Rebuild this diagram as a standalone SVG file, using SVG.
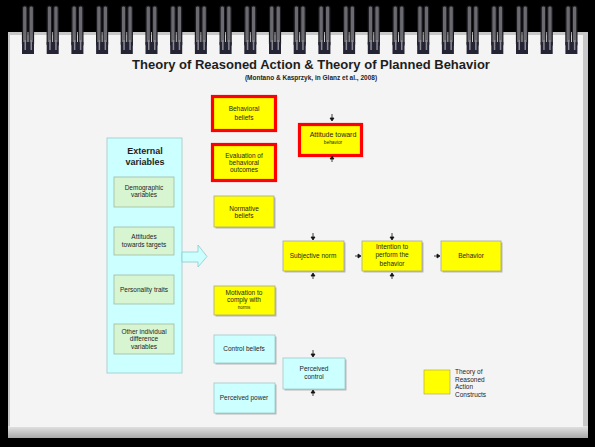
<svg xmlns="http://www.w3.org/2000/svg" width="595" height="447" viewBox="0 0 595 447">
<defs>
<style>
.t{font-family:"Liberation Sans",Arial,sans-serif;fill:#1e1e1e;text-anchor:middle}
.s{font-size:6.5px}
.y{fill:#ffff00;stroke:#a8a890;stroke-width:0.8}
.r{fill:#ffff00;stroke:#ff0000;stroke-width:3.2}
.c{fill:#ccffff;stroke:#9fc8c8;stroke-width:0.8}
.g{fill:#d6f5d0;stroke:#a0b8a0;stroke-width:0.8}
.sh{fill:#b8b8b8}
.ah{fill:#111;stroke:#111;stroke-width:0.8}
</style>
<g id="ring">
<rect x="-5.5" y="6" width="4.5" height="40" rx="2" fill="#6a6a70" stroke="#1a1a1e" stroke-width="1.2"/>
<rect x="1" y="6" width="4.5" height="40" rx="2" fill="#6a6a70" stroke="#1a1a1e" stroke-width="1.2"/>
<rect x="-6" y="42" width="12" height="12" fill="#242434"/>
<rect x="-3.5" y="40" width="1.5" height="10" fill="#8a8a92"/>
<rect x="2.5" y="40" width="1.5" height="10" fill="#8a8a92"/>
</g>
<linearGradient id="bot" x1="0" y1="0" x2="0" y2="1">
<stop offset="0" stop-color="#e4e4e4"/><stop offset="1" stop-color="#a8a8a8"/>
</linearGradient>
</defs>
<rect width="595" height="447" fill="#000"/>
<g id="paper">
<rect x="8" y="32" width="580" height="406" fill="#c8c8c8"/>
<rect x="8" y="426" width="580" height="12" fill="url(#bot)"/>
<rect x="10" y="33" width="573" height="394" fill="#f4f4f4"/>
<rect x="10" y="33" width="573" height="2" fill="#c8c8c8"/>
</g>
<g id="binding">
<use href="#ring" x="28"/><use href="#ring" x="52.7"/><use href="#ring" x="77.4"/><use href="#ring" x="102.1"/>
<use href="#ring" x="126.8"/><use href="#ring" x="151.5"/><use href="#ring" x="176.2"/><use href="#ring" x="200.9"/>
<use href="#ring" x="225.6"/><use href="#ring" x="250.3"/><use href="#ring" x="275"/><use href="#ring" x="299.7"/>
<use href="#ring" x="324.4"/><use href="#ring" x="349.1"/><use href="#ring" x="373.8"/><use href="#ring" x="398.5"/>
<use href="#ring" x="423.2"/><use href="#ring" x="447.9"/><use href="#ring" x="472.6"/><use href="#ring" x="497.3"/>
<use href="#ring" x="522"/><use href="#ring" x="546.7"/><use href="#ring" x="571.4"/>
</g>
<g id="title">
<text class="t" x="311" y="69" font-size="13" font-weight="bold">Theory of Reasoned Action &amp; Theory of Planned Behavior</text>
<text class="t" x="311" y="80" font-size="6.5" font-weight="bold">(Montano &amp; Kasprzyk, in Glanz et al., 2008)</text>
</g>
<g id="external">
<rect class="c" x="107" y="138" width="75" height="235"/>
<text class="t" x="145" y="154" font-size="9" font-weight="bold">External</text>
<text class="t" x="145" y="165" font-size="9" font-weight="bold">variables</text>
</g>
<g id="demographic">
<rect class="g" x="114" y="177" width="60" height="30"/>
<text class="t s" x="144" y="190">Demographic</text><text class="t s" x="144" y="197">variables</text>
</g>
<g id="attitudes-targets">
<rect class="g" x="114" y="227" width="60" height="28"/>
<text class="t s" x="144" y="239">Attitudes</text><text class="t s" x="144" y="247">towards targets</text>
</g>
<g id="personality">
<rect class="g" x="114" y="275" width="60" height="29"/>
<text class="t s" x="144" y="292">Personality traits</text>
</g>
<g id="other">
<rect class="g" x="114" y="324" width="60" height="30"/>
<text class="t s" x="144" y="334">Other individual</text><text class="t s" x="144" y="341">difference</text><text class="t s" x="144" y="349">variables</text>
</g>
<g id="behavioral-beliefs">
<rect class="r" x="212.5" y="96.5" width="63" height="34"/>
<text class="t s" x="244" y="111">Behavioral</text><text class="t s" x="244" y="120">beliefs</text>
</g>
<g id="evaluation">
<rect class="r" x="212.5" y="144.5" width="63" height="36"/>
<text class="t s" x="244" y="158">Evaluation of</text><text class="t s" x="244" y="165">behavioral</text><text class="t s" x="244" y="172">outcomes</text>
</g>
<g id="normative-beliefs">
<rect class="sh" x="215.5" y="197.5" width="60" height="31"/>
<rect class="y" x="214" y="196" width="60" height="31"/>
<text class="t s" x="244" y="211">Normative</text><text class="t s" x="244" y="218">beliefs</text>
</g>
<g id="motivation">
<rect class="sh" x="215.5" y="287.5" width="61" height="29"/>
<rect class="y" x="214" y="286" width="61" height="29"/>
<text class="t s" x="244" y="295">Motivation to</text><text class="t s" x="244" y="302">comply with</text><text class="t" x="244" y="309" font-size="4.5">norms</text>
</g>
<g id="control-beliefs">
<rect class="sh" x="215.5" y="336.5" width="61" height="28"/>
<rect class="c" x="214" y="335" width="61" height="28"/>
<text class="t s" x="244" y="351">Control beliefs</text>
</g>
<g id="perceived-power">
<rect class="sh" x="215.5" y="384.5" width="61" height="30"/>
<rect class="c" x="214" y="383" width="61" height="30"/>
<text class="t s" x="244" y="400">Perceived power</text>
</g>
<g id="attitude-behavior">
<rect class="r" x="299.5" y="124.5" width="62" height="31"/>
<text class="t" x="333" y="137" font-size="7">Attitude toward</text><text class="t" x="333" y="144" font-size="4.8">behavior</text>
</g>
<g id="subjective-norm">
<rect class="sh" x="284.5" y="242.5" width="61" height="30"/>
<rect class="y" x="283" y="241" width="61" height="30"/>
<text class="t s" x="313" y="258">Subjective norm</text>
</g>
<g id="intention">
<rect class="sh" x="363.5" y="242.5" width="60" height="30"/>
<rect class="y" x="362" y="241" width="60" height="30"/>
<text class="t s" x="392" y="249">Intention to</text><text class="t s" x="392" y="257">perform the</text><text class="t s" x="392" y="266">behavior</text>
</g>
<g id="behavior">
<rect class="sh" x="442.5" y="242.5" width="60" height="30"/>
<rect class="y" x="441" y="241" width="60" height="30"/>
<text class="t s" x="471" y="258">Behavior</text>
</g>
<g id="perceived-control">
<rect class="sh" x="284.5" y="359.5" width="62" height="31"/>
<rect class="c" x="283" y="358" width="62" height="31"/>
<text class="t s" x="314" y="371">Perceived</text><text class="t s" x="314" y="379">control</text>
</g>
<g id="legend">
<rect fill="#ffff00" stroke="#b0a040" stroke-width="0.6" x="424" y="370" width="26" height="24"/>
<text class="t" x="455" y="374" font-size="6.5" style="text-anchor:start">Theory of</text>
<text class="t" x="455" y="381.5" font-size="6.5" style="text-anchor:start">Reasoned</text>
<text class="t" x="455" y="389" font-size="6.5" style="text-anchor:start">Action</text>
<text class="t" x="455" y="397" font-size="6.5" style="text-anchor:start">Constructs</text>
</g>
<g id="connectors">
<path d="M182,252 H198 V245 L207,256.5 L198,267 V262 H182 Z" fill="#ccffff" stroke="#8ccaca" stroke-width="0.8"/>
<path class="ah" d="M332,114 V118 M330,118 L334,118 L332,121 Z"/>
<path class="ah" d="M332,162 V159 M330,159 L334,159 L332,156 Z"/>
<path class="ah" d="M313,233 V237 M311,237 L315,237 L313,240 Z"/>
<path class="ah" d="M313,279 V276 M311,276 L315,276 L313,273 Z"/>
<path class="ah" d="M392,233 V237 M390,237 L394,237 L392,240 Z"/>
<path class="ah" d="M392,279 V276 M390,276 L394,276 L392,273 Z"/>
<path class="ah" d="M355,256 H358 M358,254 L358,258 L361,256 Z"/>
<path class="ah" d="M434,256 H437 M437,254 L437,258 L440,256 Z"/>
<path class="ah" d="M313,350 V354 M311,354 L315,354 L313,357 Z"/>
<path class="ah" d="M313,396 V393 M311,393 L315,393 L313,390 Z"/>
</g>
</svg>
